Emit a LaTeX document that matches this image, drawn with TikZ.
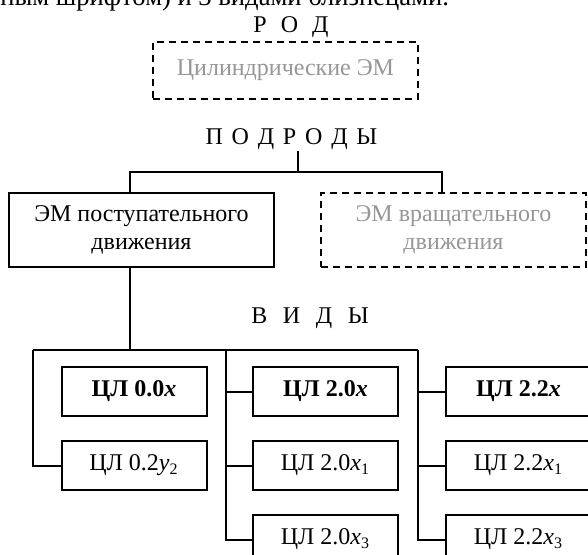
\documentclass[tikz,border=0pt]{standalone}
\usepackage{fontspec}
\setmainfont{Liberation Serif}
\usetikzlibrary{positioning}
\definecolor{ghostgray}{RGB}{150,150,150}

\begin{document}
\begin{tikzpicture}[x=0.5pt,y=-0.5pt,line width=1pt,
                    font=\fontsize{12}{14}\selectfont,
                    bigbox/.style={draw,minimum width=132.5pt,minimum height=37pt,align=center,inner sep=2pt},
                    ghostbox/.style={bigbox,dash pattern=on 3.5pt off 2.5pt,text=ghostgray},
                    kindbox/.style={draw,minimum width=72.5pt,minimum height=24.5pt,inner sep=2pt},
                    heading/.style={inner sep=0pt,anchor=base},
                    node distance=11.5pt]

\useasboundingbox (0,0) rectangle (588,555);
\clip (0,0) rectangle (588,555);

\node[heading,anchor=base east,font=\fontsize{13.3}{15}\selectfont] (Intro) at (450,6)
  {ным шрифтом) и 3 видами близнецами.};
\node[heading] (Rod) at (291,33) {Р\hspace{7pt}О\hspace{7pt}Д};
\node[ghostbox,minimum height=28.5pt] (Cyl) at (285.5,70.5) {Цилиндрические ЭМ};

\node[heading] (Podrody) at (291.5,145)
  {П\hspace{4.4pt}О\hspace{4.4pt}Д\hspace{4.4pt}Р\hspace{4.4pt}О\hspace{4.4pt}Д\hspace{4.4pt}Ы};
\node[bigbox] (Post) at (141.5,230) {ЭМ поступательного\\движения};
\node[ghostbox] (Vrash) at (453.5,230) {ЭМ вращательного\\движения};

\node[heading] (Vidy) at (310,323) {В\hspace{7.8pt}И\hspace{7.8pt}Д\hspace{7.8pt}Ы};

\node[kindbox] (K00) at (134,391.5) {\textbf{ЦЛ 0.0\textit{x}}};
\node[kindbox] (K02) [below=of K00] {ЦЛ 0.2\textit{y}\textsubscript{2}};
\node[kindbox] (K20) at (325.5,391.5) {\textbf{ЦЛ 2.0\textit{x}}};
\node[kindbox] (K21) [below=of K20] {ЦЛ 2.0\textit{x}\textsubscript{1}};
\node[kindbox] (K23) [below=of K21] {ЦЛ 2.0\textit{x}\textsubscript{3}};
\node[kindbox] (K22) at (518.5,391.5) {\textbf{ЦЛ 2.2\textit{x}}};
\node[kindbox] (K221) [below=of K22] {ЦЛ 2.2\textit{x}\textsubscript{1}};
\node[kindbox] (K223) [below=of K221] {ЦЛ 2.2\textit{x}\textsubscript{3}};

\coordinate (Sub) at (286,172);
\coordinate (V1) at (33,350);
\coordinate (V2) at (226,350);
\coordinate (V3) at (418,350);

% subgenera
\draw ([xshift=3.25pt]Podrody.south) -- ([xshift=3.25pt]Podrody.south |- Sub);
\draw ([xshift=-6pt]Post.north) |- (Sub) -| ([xshift=-5.75pt]Vrash.north);

% kinds
\draw ([xshift=-6pt]Post.south) -- ([xshift=-6pt]Post.south |- V1);
\draw (V1) -- (V3);
\draw (V1) |- (K02.west);
\draw (V2) |- (K23.west);
\draw (K20.west) -- (K20.west -| V2);
\draw (K21.west) -- (K21.west -| V2);
\draw (V3) |- (K223.west);
\draw (K22.west) -- (K22.west -| V3);
\draw (K221.west) -- (K221.west -| V3);
\end{tikzpicture}
\end{document}
